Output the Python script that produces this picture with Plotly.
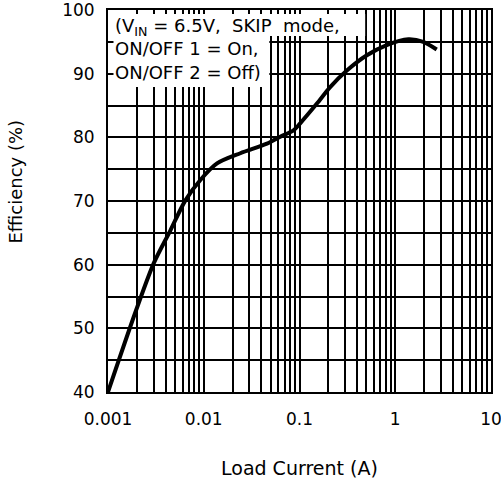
import plotly.graph_objects as go

# Efficiency curve (SKIP mode, VIN = 6.5V)
load_current = [0.001, 0.00194, 0.0030, 0.00449, 0.00643, 0.00922, 0.01376, 0.0241,
                0.0457, 0.0629, 0.0866, 0.1016, 0.152, 0.209, 0.312, 0.505, 0.815,
                1.37, 1.96, 2.71]
efficiency = [40.0, 52.6, 60.2, 65.4, 70.1, 73.3, 75.9, 77.5,
              79.0, 80.1, 81.1, 82.2, 85.3, 87.9, 90.5, 92.9, 94.5,
              95.4, 95.0, 93.8]

x_tickvals = [0.001, 0.01, 0.1, 1, 10]
x_ticktext = ['0.001', '0.01', '0.1', '1', '10']
y_tickvals = [40, 50, 60, 70, 80, 90, 100]

FONT = 'DejaVu Sans'

# minor grid on the log axis: 2..9 in every decade
x_minor = [m * d for d in [0.001, 0.01, 0.1, 1] for m in range(2, 10)]

fig = go.Figure()
fig.add_trace(go.Scatter(
    x=load_current, y=efficiency, mode='lines',
    line=dict(color='black', width=4, shape='spline', smoothing=0.8),
    showlegend=False, hoverinfo='skip'
))

grid = dict(showgrid=True, gridcolor='black', gridwidth=1.5)
tick = dict(ticks='inside', ticklen=5, tickcolor='black', tickwidth=1.5)

fig.update_xaxes(
    type='log', range=[-3, 1],
    tickvals=x_tickvals, ticktext=x_ticktext,
    showline=True, linecolor='black', linewidth=2, mirror='allticks',
    ticklabelstandoff=11, ticklabeloverflow='allow',
    tickfont=dict(family=FONT, size=17, color='black'),
    minor=dict(tickvals=x_minor, **grid, **tick),
    zeroline=False, automargin=False, **grid, **tick
)
fig.update_yaxes(
    range=[40, 100], tickvals=y_tickvals,
    showline=True, linecolor='black', linewidth=2, mirror='allticks',
    ticklabelstandoff=8, ticklabeloverflow='allow',
    tickfont=dict(family=FONT, size=17, color='black'),
    minor=dict(dtick=5, **grid, **tick),
    zeroline=False, automargin=False, **grid, **tick
)

# plot area in the picture: x 107.5..491 px, y 10..392 px
W, H = 383.5, 382.0


def px(x):
    return (x - 107.5) / W


def py(y):
    return (392 - y) / H


# white patches behind the condition text (leave the inside ticks visible)
for x0, x1, y0, y1 in [(113, 365, 14, 36), (113, 269, 14, 87)]:
    fig.add_shape(type='rect', xref='paper', yref='paper',
                  x0=px(x0), x1=px(x1), y0=py(y1), y1=py(y0),
                  fillcolor='white', line_width=0, layer='above')

fig.add_annotation(
    x=0, y=1, xref='paper', yref='paper', xanchor='left', yanchor='top',
    xshift=5, yshift=-3, showarrow=False, align='left',
    text='(V<sub>IN</sub> = 6.5V,&nbsp; SKIP&nbsp; mode,<br>ON/OFF 1 = On,<br>ON/OFF 2 = Off)',
    font=dict(family=FONT, size=18, color='black')
)

# axis titles
fig.add_annotation(
    x=0.5, y=0, xref='paper', yref='paper', xanchor='center', yanchor='middle',
    yshift=-76, showarrow=False, text='Load Current (A)',
    font=dict(family=FONT, size=19, color='black')
)
fig.add_annotation(
    x=0, y=py(182), xref='paper', yref='paper', xanchor='center', yanchor='middle',
    xshift=-93.5, showarrow=False, text='Efficiency (%)', textangle=-90,
    font=dict(family=FONT, size=18, color='black')
)

fig.update_layout(
    width=501, height=480, autosize=False,
    margin=dict(l=107.5, r=10, t=10, b=88, pad=0),
    plot_bgcolor='white', paper_bgcolor='white',
    font=dict(family=FONT, color='black')
)

fig.write_html('out.html', config={'displayModeBar': False},
               post_script="document.body.style.margin='0';")
